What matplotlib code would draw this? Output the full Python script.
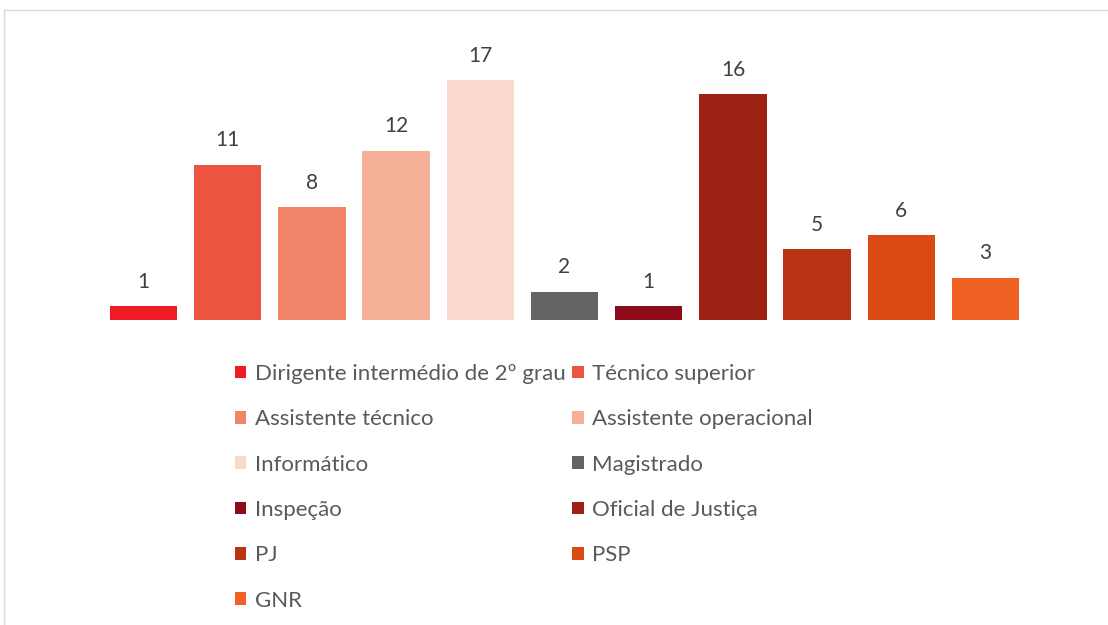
import matplotlib.pyplot as plt
from matplotlib.patches import Patch
from matplotlib.lines import Line2D

# dados
categorias = ['Dirigente intermédio de 2º grau', 'Técnico superior', 'Assistente técnico',
              'Assistente operacional', 'Informático', 'Magistrado', 'Inspeção',
              'Oficial de Justiça', 'PJ', 'PSP', 'GNR']
valores = [1, 11, 8, 12, 17, 2, 1, 16, 5, 6, 3]
cores = ['#EE1B26', '#EA5440', '#F0856A', '#F5B097', '#F9D9CB', '#646464',
         '#8E0B19', '#9E2213', '#B83413', '#DB4A13', '#EF6224']

plt.rcParams['font.family'] = ['Lato', 'DejaVu Sans']

fig = plt.figure(figsize=(11.08, 6.25), dpi=100)
ax = fig.add_axes([101.4/1108, 1-320/625, 926.2/1108, 254.2/625])

x = list(range(len(valores)))
barras = ax.bar(x, valores, width=0.8, color=cores)
for xi, v in zip(x, valores):
    ax.annotate(str(v), (xi, v), xytext=(0, 17.5), textcoords='offset points',
                ha='center', va='center', fontsize=15, color='#404040')

ax.set_xlim(-0.5, len(valores)-0.5)
ax.set_ylim(0, 18)
ax.axis('off')

# legenda em duas colunas (ordem por linhas)
ordem = [0, 2, 4, 6, 8, 10, 1, 3, 5, 7, 9]
handles = [Patch(facecolor=cores[i], edgecolor='none') for i in ordem]
labels = [categorias[i] for i in ordem]
leg = fig.legend(handles, labels, ncol=2, loc='upper left',
                 bbox_to_anchor=(235/1108, 1-364/625), frameon=False,
                 fontsize=16, handlelength=0.5, handleheight=0.5,
                 handletextpad=0.4, columnspacing=0.3, labelspacing=1.14,
                 borderpad=0, borderaxespad=0)
for t in leg.get_texts():
    t.set_color('#595959')

# moldura
fig.add_artist(Line2D([4/1108, 1], [1-10/625, 1-10/625], color='#D9D9D9', lw=1))
fig.add_artist(Line2D([4/1108, 4/1108], [0, 1-10/625], color='#D9D9D9', lw=1))

fig.savefig('out.png', dpi=100)
